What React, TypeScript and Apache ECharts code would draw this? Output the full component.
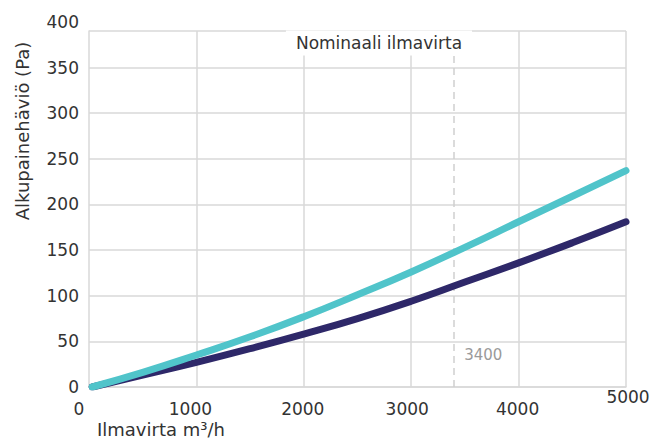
import React, { useEffect, useRef } from "react";
import * as echarts from "echarts";

const flow = [30, 500, 1000, 1500, 2000, 2500, 3000, 3500, 4000, 4500, 5000];
const tealValues = [0, 16, 35, 55, 77, 101, 126, 153, 181, 209, 237];
const navyValues = [0, 13, 27, 42, 58, 75, 94, 115, 136, 158, 181];
const xTicks = [0, 1000, 2000, 3000, 4000, 5000];
const yTicks = [0, 50, 100, 150, 200, 250, 300, 350, 400];
const nominalFlow = 3400;
const nominalLabel = "Nominaali ilmavirta";
const xTitle = "Ilmavirta m³/h";
const yTitle = "Alkupainehäviö (Pa)";
const frameTop = 390;

const FONT = "DejaVu Sans";
const TXT = "#333333";
const GRID = "#d9d9d9";

export default function App() {
  const ref = useRef<HTMLDivElement>(null);
  useEffect(() => {
    if (!ref.current) return;
    const chart = echarts.init(ref.current, undefined, { renderer: "svg" });
    const gridLeft = 89;
    const labelStyle = { fontSize: 17, fontFamily: FONT, color: TXT };
    chart.setOption({
      animation: false,
      grid: { left: gridLeft, right: 29, top: 31, bottom: 54, outerBoundsMode: "none" },
      xAxis: {
        type: "value",
        min: 0,
        max: xTicks[xTicks.length - 1],
        interval: 1000,
        axisLine: { show: true, lineStyle: { color: GRID, width: 1.5 } },
        axisTick: { show: false },
        splitLine: { show: true, showMinLine: false, showMaxLine: true, lineStyle: { color: GRID, width: 1.5 } },
        axisLabel: {
          margin: 1,
          formatter: (v: number) => {
            if (!xTicks.includes(v)) return "";
            const i = xTicks.indexOf(v);
            return `{t${i}|${v}}`;
          },
          rich: {
            t0: { ...labelStyle, padding: [12, 20, 0, 0] },
            t1: { ...labelStyle, padding: [12, 12, 0, 0] },
            t2: { ...labelStyle, padding: [12, 2, 0, 0] },
            t3: { ...labelStyle, padding: [12, 8, 0, 0] },
            t4: { ...labelStyle, padding: [12, 2, 0, 0] },
            t5: { ...labelStyle, padding: [0, 0, 0, 4] },
          },
        },
      },
      yAxis: {
        type: "value",
        min: 0,
        max: frameTop,
        interval: 50,
        axisLine: { show: true, lineStyle: { color: GRID, width: 1.5 } },
        axisTick: { show: false },
        splitLine: { show: true, showMaxLine: true, lineStyle: { color: GRID, width: 1.5 } },
        axisLabel: {
          margin: 10,
          ...labelStyle,
          formatter: (v: number) => (yTicks.includes(v) ? String(v) : ""),
        },
      },
      series: [
        {
          type: "line",
          smooth: true,
          showSymbol: false,
          data: flow.map((x, i) => [x, navyValues[i]]),
          lineStyle: { color: "#2e2869", width: 7, cap: "round" },
          itemStyle: { color: "#2e2869" },
          z: 3,
        },
        {
          type: "line",
          smooth: true,
          showSymbol: false,
          data: flow.map((x, i) => [x, tealValues[i]]),
          lineStyle: { color: "#50c4ca", width: 7, cap: "round" },
          itemStyle: { color: "#50c4ca" },
          z: 4,
          markLine: {
            silent: true,
            symbol: "none",
            label: { show: false },
            lineStyle: { color: "#cfcfcf", type: [7, 5], width: 1.5 },
            data: [{ xAxis: nominalFlow }],
            z: 1,
          },
        },
      ],
    });

    const y400 = chart.convertToPixel({ yAxisIndex: 0 }, yTicks[yTicks.length - 1]) as number;
    const xNom = chart.convertToPixel({ xAxisIndex: 0 }, nominalFlow) as number;
    const yNomLabel = chart.convertToPixel({ yAxisIndex: 0 }, 35) as number;

    chart.setOption({
      graphic: [
        {
          type: "text",
          x: gridLeft - 10,
          y: y400,
          z: 100,
          style: { text: String(yTicks[yTicks.length - 1]), fontSize: 17, fontFamily: FONT, fill: TXT, align: "right", verticalAlign: "middle" },
        },
        {
          type: "text",
          x: 379,
          y: 43,
          z: 100,
          style: {
            text: nominalLabel,
            fontSize: 17,
            fontFamily: FONT,
            fill: TXT,
            align: "center",
            verticalAlign: "middle",
            backgroundColor: "#ffffff",
            padding: [1, 10, 7, 10],
          },
        },
        {
          type: "text",
          x: xNom + 10,
          y: yNomLabel,
          z: 100,
          style: { text: String(nominalFlow), fontSize: 15, fontFamily: FONT, fill: "#9a9a9a", align: "left", verticalAlign: "middle" },
        },
        {
          type: "text",
          x: 97,
          y: 429,
          z: 100,
          style: { text: xTitle, fontSize: 18, fontFamily: FONT, fill: TXT, align: "left", verticalAlign: "middle" },
        },
        {
          type: "text",
          x: 22,
          y: 131,
          rotation: Math.PI / 2,
          z: 100,
          style: { text: yTitle, fontSize: 18, fontFamily: FONT, fill: TXT, align: "center", verticalAlign: "middle" },
        },
      ],
    });

    return () => chart.dispose();
  }, []);
  return <div ref={ref} style={{ position: "fixed", left: 0, top: 0, width: 655, height: 441, background: "#fff" }} />;
}
